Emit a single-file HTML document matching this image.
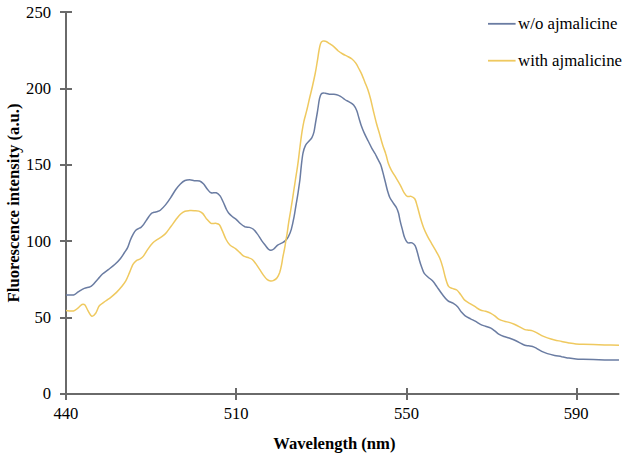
<!DOCTYPE html>
<html><head><meta charset="utf-8"><style>
html,body{margin:0;padding:0;background:#fff;width:630px;height:460px;overflow:hidden}
svg{display:block}
text{font-family:"Liberation Serif",serif;font-size:16.6px;fill:#000}
</style></head><body>
<svg width="630" height="460" viewBox="0 0 630 460">
<path d="M66 11V395M65 394H619.3" stroke="#6a6a6a" stroke-width="2" fill="none"/>
<path d="M60 394H72" stroke="#6a6a6a" stroke-width="2"/>
<text x="51" y="399" text-anchor="end">0</text>
<path d="M60 318H72" stroke="#6a6a6a" stroke-width="2"/>
<text x="51" y="323" text-anchor="end">50</text>
<path d="M60 241H72" stroke="#6a6a6a" stroke-width="2"/>
<text x="51" y="247" text-anchor="end">100</text>
<path d="M60 165H72" stroke="#6a6a6a" stroke-width="2"/>
<text x="51" y="170" text-anchor="end">150</text>
<path d="M60 89H72" stroke="#6a6a6a" stroke-width="2"/>
<text x="51" y="94" text-anchor="end">200</text>
<path d="M60 12H72" stroke="#6a6a6a" stroke-width="2"/>
<text x="51" y="18" text-anchor="end">250</text>
<path d="M66 388V400" stroke="#6a6a6a" stroke-width="2"/>
<text x="65.9" y="418.5" text-anchor="middle">440</text>
<path d="M236 388V400" stroke="#6a6a6a" stroke-width="2"/>
<text x="236.1" y="418.5" text-anchor="middle">510</text>
<path d="M407 388V400" stroke="#6a6a6a" stroke-width="2"/>
<text x="406.5" y="418.5" text-anchor="middle">550</text>
<path d="M577 388V400" stroke="#6a6a6a" stroke-width="2"/>
<text x="576.1" y="418.5" text-anchor="middle">590</text>
<path d="M66.0 294.9 C67.3 294.9 71.6 295.4 73.6 294.9 C75.6 294.4 76.4 293.0 78.2 291.9 C80.0 290.8 82.4 289.2 84.3 288.4 C86.2 287.6 88.2 287.6 89.6 287.0 C91.0 286.4 91.2 286.4 92.6 285.0 C94.0 283.6 96.3 280.7 98.0 278.9 C99.7 277.1 100.7 275.6 102.5 274.0 C104.3 272.4 106.5 271.0 108.6 269.4 C110.7 267.8 113.0 266.1 115.0 264.3 C117.0 262.5 118.9 260.5 120.5 258.5 C122.1 256.5 123.3 254.3 124.5 252.5 C125.7 250.7 126.6 249.7 127.6 247.6 C128.6 245.5 129.5 242.2 130.4 240.0 C131.3 237.8 132.3 235.7 133.2 234.1 C134.1 232.5 134.9 231.1 135.8 230.2 C136.7 229.3 137.5 229.1 138.4 228.6 C139.3 228.1 140.1 228.0 141.0 227.3 C141.9 226.6 142.8 225.6 143.7 224.4 C144.6 223.2 145.4 221.7 146.3 220.4 C147.2 219.1 148.0 217.7 148.9 216.5 C149.8 215.3 150.6 214.0 151.5 213.3 C152.4 212.6 153.1 212.6 154.1 212.3 C155.1 212.0 156.5 211.8 157.5 211.5 C158.5 211.2 159.0 211.3 160.3 210.2 C161.6 209.1 163.8 207.0 165.5 204.9 C167.2 202.8 169.0 200.2 170.7 197.6 C172.4 195.0 174.2 191.8 175.8 189.5 C177.4 187.2 178.9 185.5 180.4 184.0 C181.9 182.5 183.4 181.2 185.0 180.5 C186.6 179.8 188.2 179.7 189.8 179.7 C191.4 179.7 192.7 180.5 194.3 180.7 C195.9 180.9 198.1 180.5 199.6 181.0 C201.1 181.5 202.1 182.4 203.4 183.7 C204.7 185.0 205.9 187.5 207.2 189.0 C208.5 190.5 209.5 192.2 211.0 192.8 C212.5 193.4 214.8 192.3 216.3 192.8 C217.8 193.3 218.9 194.4 220.1 195.9 C221.2 197.4 222.1 199.7 223.2 202.0 C224.3 204.3 225.6 207.7 226.5 209.5 C227.4 211.3 227.6 211.8 228.6 213.0 C229.6 214.2 231.2 215.6 232.5 216.7 C233.8 217.8 235.1 218.5 236.4 219.6 C237.7 220.7 238.9 222.3 240.3 223.5 C241.7 224.7 243.4 226.0 244.9 226.7 C246.4 227.3 248.1 227.0 249.5 227.4 C250.9 227.8 252.1 228.2 253.4 229.3 C254.7 230.4 256.0 232.1 257.3 233.9 C258.7 235.7 260.2 238.5 261.5 240.3 C262.8 242.2 263.9 243.5 265.1 245.0 C266.3 246.5 267.5 248.4 268.5 249.3 C269.5 250.2 270.1 250.4 271.0 250.3 C271.9 250.2 272.7 249.9 273.8 249.0 C274.9 248.1 276.4 246.1 277.7 245.1 C279.0 244.1 280.3 243.9 281.6 243.2 C282.9 242.4 284.4 241.7 285.5 240.6 C286.6 239.5 287.4 238.5 288.4 236.6 C289.4 234.7 290.4 232.7 291.3 229.4 C292.2 226.1 293.3 220.9 294.1 216.7 C294.9 212.5 295.5 208.0 296.2 204.0 C296.9 200.0 297.5 196.7 298.1 192.7 C298.7 188.7 299.3 184.5 299.9 180.0 C300.4 175.5 300.8 170.3 301.3 165.8 C301.8 161.3 302.3 156.5 303.0 153.1 C303.7 149.7 304.5 147.3 305.5 145.3 C306.5 143.3 308.0 142.4 309.1 141.1 C310.2 139.8 311.1 139.1 311.9 137.6 C312.7 136.1 313.4 134.3 314.0 131.9 C314.6 129.5 314.9 126.3 315.5 123.0 C316.1 119.7 316.7 116.0 317.4 112.0 C318.1 108.0 318.8 101.8 319.5 98.7 C320.2 95.6 320.5 94.5 321.5 93.6 C322.5 92.7 324.1 93.1 325.4 93.2 C326.7 93.3 328.0 94.0 329.3 94.2 C330.6 94.4 331.8 94.2 333.0 94.3 C334.2 94.4 335.4 94.4 336.7 94.7 C337.9 95.0 339.1 95.5 340.5 96.3 C341.9 97.1 343.3 98.5 344.8 99.5 C346.3 100.5 348.0 101.2 349.5 102.1 C351.0 103.0 352.4 103.6 353.6 105.0 C354.8 106.4 355.8 108.3 356.7 110.5 C357.6 112.7 358.2 115.7 359.0 118.2 C359.8 120.8 360.4 123.3 361.3 125.8 C362.2 128.3 363.2 130.9 364.4 133.4 C365.5 135.9 366.9 138.5 368.2 141.0 C369.5 143.5 370.8 146.4 372.0 148.6 C373.2 150.8 374.4 152.3 375.3 154.0 C376.2 155.7 376.7 156.9 377.6 158.7 C378.5 160.5 379.8 162.5 380.7 164.8 C381.6 167.1 382.1 169.6 382.9 172.4 C383.6 175.2 384.4 178.4 385.2 181.5 C386.0 184.6 386.7 188.0 387.5 190.7 C388.3 193.4 388.8 195.4 389.8 197.5 C390.8 199.6 392.5 201.8 393.6 203.5 C394.7 205.2 395.8 206.4 396.6 208.0 C397.4 209.6 397.9 211.0 398.5 213.0 C399.1 215.0 399.3 217.2 399.9 219.8 C400.5 222.5 401.4 226.0 402.2 228.9 C403.0 231.8 403.6 235.0 404.5 237.3 C405.4 239.6 406.2 241.7 407.5 242.6 C408.8 243.5 410.8 242.4 412.1 242.9 C413.4 243.4 414.2 244.1 415.1 245.7 C416.0 247.3 416.7 250.0 417.4 252.5 C418.1 255.0 418.8 258.0 419.5 260.5 C420.2 263.0 421.0 265.4 421.8 267.5 C422.6 269.6 423.1 271.6 424.1 273.2 C425.1 274.8 426.5 275.7 427.9 277.0 C429.3 278.3 431.0 279.2 432.5 280.8 C434.0 282.4 435.4 284.6 437.0 286.9 C438.6 289.2 440.6 292.2 442.4 294.5 C444.2 296.8 445.9 299.2 447.7 300.6 C449.5 302.1 451.4 302.2 453.0 303.2 C454.6 304.2 456.2 305.2 457.6 306.7 C459.0 308.2 460.1 310.5 461.4 312.0 C462.7 313.5 463.7 314.7 465.2 315.8 C466.7 316.9 468.8 317.9 470.5 318.8 C472.2 319.7 473.6 320.2 475.2 321.1 C476.8 322.0 478.7 323.4 480.4 324.3 C482.1 325.2 483.9 325.7 485.6 326.3 C487.4 326.9 489.4 327.4 490.9 328.2 C492.4 329.0 493.5 329.9 494.8 330.9 C496.1 331.9 497.2 333.2 498.7 334.1 C500.2 335.0 502.2 335.9 503.9 336.5 C505.6 337.1 507.4 337.4 509.1 338.0 C510.8 338.6 512.6 339.2 514.3 340.0 C516.0 340.8 517.8 341.7 519.5 342.6 C521.2 343.5 523.3 344.7 524.8 345.2 C526.3 345.7 527.4 345.6 528.7 345.8 C530.0 346.0 531.3 346.1 532.6 346.5 C533.9 346.9 535.0 347.5 536.5 348.3 C538.0 349.1 539.9 350.5 541.7 351.4 C543.5 352.3 545.2 352.9 547.4 353.6 C549.5 354.3 552.2 354.9 554.6 355.4 C557.0 355.9 559.3 356.2 561.7 356.7 C564.1 357.1 566.5 357.7 568.9 358.1 C571.3 358.5 573.6 358.8 576.0 359.0 C578.4 359.2 580.2 359.2 583.1 359.3 C586.0 359.4 589.5 359.5 593.1 359.6 C596.7 359.7 600.3 359.8 604.6 359.9 C608.9 360.0 616.6 360.1 619.0 360.1" fill="none" stroke="#6A7CA2" stroke-width="1.5" stroke-linejoin="round"/>
<path d="M66.0 310.6 C67.3 310.7 71.6 311.4 73.6 310.9 C75.6 310.4 76.8 308.9 78.2 307.8 C79.6 306.7 80.9 304.9 82.0 304.5 C83.1 304.1 84.0 304.0 85.0 305.1 C86.0 306.2 86.9 309.0 88.1 310.9 C89.2 312.8 90.6 315.8 91.9 316.2 C93.2 316.6 94.4 315.0 95.7 313.2 C97.0 311.4 97.8 307.6 99.5 305.6 C101.2 303.6 103.7 302.4 105.6 301.0 C107.5 299.6 109.0 298.7 110.8 297.3 C112.6 295.9 114.8 294.1 116.5 292.4 C118.2 290.7 119.8 288.9 121.3 287.0 C122.8 285.1 124.4 283.2 125.8 280.8 C127.2 278.4 128.3 275.3 129.5 272.6 C130.7 269.9 131.7 266.6 132.8 264.6 C134.0 262.6 135.2 261.5 136.4 260.6 C137.6 259.7 138.8 259.8 140.0 259.0 C141.2 258.2 142.2 257.6 143.4 256.1 C144.6 254.6 145.9 252.0 147.4 249.8 C148.9 247.6 150.9 244.8 152.7 243.0 C154.5 241.2 156.4 240.2 158.0 239.1 C159.6 238.0 161.1 237.3 162.5 236.2 C163.9 235.1 165.1 234.1 166.5 232.4 C167.9 230.8 169.5 228.4 171.1 226.3 C172.7 224.2 174.2 221.8 175.8 219.8 C177.4 217.8 178.9 215.7 180.4 214.3 C181.9 212.9 183.4 211.8 185.0 211.2 C186.6 210.6 188.2 210.7 189.8 210.6 C191.4 210.5 192.8 210.6 194.3 210.7 C195.8 210.8 197.4 210.6 198.8 211.1 C200.2 211.6 201.3 212.1 202.6 213.4 C203.9 214.7 205.0 217.0 206.4 218.7 C207.8 220.3 209.5 222.5 211.0 223.3 C212.5 224.1 214.2 223.1 215.6 223.3 C217.0 223.6 218.3 223.5 219.4 224.8 C220.5 226.1 221.3 228.5 222.4 230.9 C223.5 233.3 224.8 237.2 226.1 239.5 C227.3 241.8 228.3 243.5 229.9 245.0 C231.5 246.5 233.8 247.3 235.5 248.6 C237.2 249.9 238.5 251.3 239.9 252.6 C241.3 253.9 242.3 255.3 243.8 256.2 C245.3 257.1 247.6 257.3 249.0 257.9 C250.4 258.4 251.2 258.6 252.3 259.5 C253.4 260.4 254.4 261.8 255.6 263.4 C256.8 265.0 258.2 267.2 259.5 269.2 C260.8 271.1 262.1 273.4 263.4 275.1 C264.7 276.9 266.1 278.7 267.3 279.7 C268.5 280.7 269.5 280.9 270.6 281.0 C271.7 281.1 272.7 280.9 273.8 280.3 C274.9 279.8 276.1 279.0 277.1 277.7 C278.1 276.4 278.9 274.7 279.7 272.5 C280.4 270.3 281.1 267.3 281.6 264.7 C282.1 262.1 282.4 259.5 282.9 256.9 C283.4 254.3 284.0 251.7 284.5 249.0 C285.0 246.3 285.4 243.6 285.8 241.0 C286.2 238.4 286.6 236.7 287.1 233.6 C287.6 230.5 288.1 226.1 288.7 222.3 C289.3 218.5 290.0 214.8 290.6 211.0 C291.2 207.2 291.8 203.6 292.4 199.8 C293.0 196.1 293.6 191.8 294.1 188.5 C294.6 185.2 294.8 184.0 295.4 180.0 C296.0 176.0 297.1 169.8 297.8 164.4 C298.6 159.0 299.2 152.9 299.9 147.5 C300.6 142.1 301.3 136.3 302.0 131.9 C302.7 127.5 303.1 124.9 303.9 121.3 C304.7 117.7 305.9 114.1 306.8 110.2 C307.8 106.3 308.7 102.0 309.6 98.0 C310.6 94.0 311.6 90.0 312.5 86.0 C313.4 82.0 314.3 77.9 315.1 74.0 C315.9 70.1 316.5 66.4 317.1 62.5 C317.8 58.6 318.4 53.7 319.0 50.5 C319.6 47.3 320.0 45.0 320.6 43.5 C321.2 42.0 321.8 41.6 322.6 41.2 C323.4 40.8 324.5 40.9 325.6 41.3 C326.8 41.7 328.2 42.8 329.5 43.6 C330.8 44.5 332.0 45.2 333.5 46.4 C335.0 47.6 336.8 49.7 338.3 51.0 C339.9 52.3 341.3 53.1 342.8 54.0 C344.3 54.9 345.9 55.5 347.4 56.3 C348.9 57.1 350.6 57.9 352.0 59.0 C353.4 60.1 354.7 61.6 355.8 63.2 C356.9 64.8 357.8 66.6 358.8 68.5 C359.8 70.4 360.9 72.3 361.9 74.6 C362.9 76.9 363.9 79.7 364.9 82.2 C365.9 84.7 366.9 87.0 367.9 89.8 C368.8 92.6 369.7 95.5 370.6 99.0 C371.5 102.5 372.4 106.9 373.4 111.0 C374.4 115.1 375.5 119.7 376.5 123.5 C377.5 127.3 378.6 130.5 379.6 134.1 C380.6 137.7 381.6 141.5 382.6 144.8 C383.6 148.1 384.9 150.9 385.8 154.0 C386.8 157.1 387.4 160.6 388.3 163.3 C389.2 166.0 390.0 167.7 391.3 170.1 C392.6 172.5 394.4 175.2 395.9 177.7 C397.4 180.2 399.0 182.8 400.4 185.3 C401.8 187.8 403.0 191.1 404.2 192.9 C405.4 194.8 406.1 195.8 407.3 196.4 C408.5 197.0 409.8 196.0 411.1 196.4 C412.4 196.8 413.9 197.3 414.9 199.0 C415.9 200.7 416.4 203.2 417.3 206.3 C418.2 209.4 419.3 214.0 420.3 217.5 C421.3 221.0 422.3 224.3 423.5 227.4 C424.7 230.5 425.9 233.0 427.3 235.8 C428.7 238.6 430.4 241.4 431.9 244.1 C433.4 246.8 435.1 249.4 436.4 251.8 C437.7 254.2 438.7 255.7 439.8 258.3 C440.9 260.9 441.9 264.1 442.8 267.4 C443.7 270.6 444.5 274.7 445.4 277.8 C446.3 280.9 447.3 284.4 448.4 286.2 C449.5 288.0 450.8 287.8 452.2 288.4 C453.6 289.0 455.4 289.0 456.8 290.0 C458.2 291.0 459.3 292.9 460.6 294.5 C461.9 296.1 462.8 298.4 464.4 299.9 C466.0 301.4 468.2 302.5 470.0 303.6 C471.8 304.7 473.5 305.6 475.2 306.7 C476.9 307.8 478.7 309.2 480.4 310.0 C482.1 310.8 483.9 310.8 485.6 311.3 C487.4 311.9 489.4 312.5 490.9 313.3 C492.4 314.1 493.5 314.9 494.8 315.9 C496.1 316.9 497.2 318.2 498.7 319.1 C500.2 320.0 502.2 320.6 503.9 321.1 C505.6 321.7 507.4 321.9 509.1 322.4 C510.8 322.9 512.6 323.6 514.3 324.3 C516.0 325.1 517.8 326.0 519.5 326.9 C521.2 327.8 523.3 329.1 524.8 329.6 C526.3 330.2 527.4 330.0 528.7 330.2 C530.0 330.4 531.3 330.5 532.6 330.9 C533.9 331.3 535.0 331.8 536.5 332.6 C538.0 333.4 539.9 334.8 541.7 335.7 C543.5 336.6 545.2 337.2 547.4 337.9 C549.5 338.6 552.2 339.4 554.6 340.0 C557.0 340.6 559.3 340.9 561.7 341.4 C564.1 341.9 566.5 342.5 568.9 342.9 C571.3 343.3 573.6 343.7 576.0 343.9 C578.4 344.1 580.2 344.2 583.1 344.3 C586.0 344.4 589.5 344.5 593.1 344.6 C596.7 344.7 600.3 344.8 604.6 344.9 C608.9 345.0 616.6 345.2 619.0 345.3" fill="none" stroke="#EFC95F" stroke-width="1.5" stroke-linejoin="round"/>
<path d="M488 23.8H515.6" stroke="#6A7CA2" stroke-width="1.8"/>
<path d="M488 60.7H515.6" stroke="#EFC95F" stroke-width="1.8"/>
<text x="518.1" y="29.2" style="font-size:16.8px">w/o ajmalicine</text>
<text x="518.1" y="65.8" style="font-size:16.8px">with ajmalicine</text>
<text x="273.3" y="449.1" font-weight="bold">Wavelength (nm)</text>
<text transform="translate(19.1,302.4) rotate(-90)" font-weight="bold" style="font-size:16.7px">Fluorescence intensity (a.u.)</text>
</svg>
</body></html>
